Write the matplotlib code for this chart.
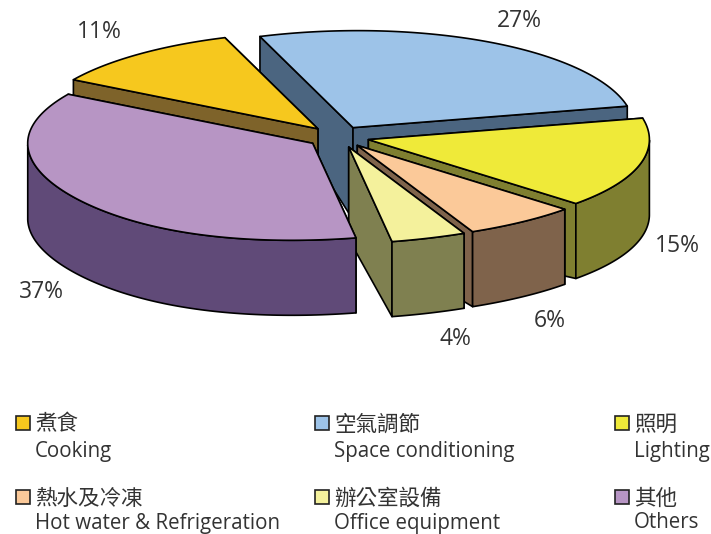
import numpy as np
import matplotlib
matplotlib.use("Agg")
import matplotlib.pyplot as plt
from matplotlib.patches import Polygon, Rectangle

# Data
names_zh = ["煮食", "空氣調節", "照明", "熱水及冷凍", "辦公室設備", "其他"]
names_en = ["Cooking", "Space conditioning", "Lighting",
            "Hot water & Refrigeration", "Office equipment", "Others"]
values = [11, 27, 15, 6, 4, 37]

# Styles and layout, kept apart from the data
top_colors = ["#F6C81E", "#9DC3E8", "#EFEA39", "#FBC999", "#F4F19C", "#B795C4"]
side_colors = ["#7E632A", "#4B6580", "#7F7F30", "#7F634B", "#7F8050", "#604A78"]
label_pos = [(99, 32), (519, 21), (677, 246), (550, 321), (455, 339), (41, 292)]
legend_x = [16, 315, 615]
legend_y = [424, 498]
legend_en_gap = [28, 25]
draw_order = [1, 0, 2, 3, 4, 5]

plt.rcParams["font.family"] = ["Open Sans", "Noto Sans CJK TC", "DejaVu Sans"]

center_x, center_y = 338, 137
radius_x, radius_y = 285, 97
explode = 0.11
start_angle = 149.6
text_color = "#333333"


def rim_height(t):
    # front of the pie is 75 px tall, the back shrinks
    return 75 - 40 * np.maximum(np.sin(t), 0)


def rim_offset(t):
    # ellipse with a slight perspective lean, front goes left, right side is shorter
    c, s = np.cos(t), np.sin(t)
    dx = np.where(c > 0, 281, radius_x) * c
    dx = dx + np.where(s < 0, -21 * s ** 4, 5 * s ** 2)
    return dx, -radius_y * s


fig = plt.figure(figsize = (7.11, 5.34), dpi = 100)
ax = fig.add_axes([0, 0, 1, 1])
ax.set_xlim(0, 711)
ax.set_ylim(534, 0)
ax.axis("off")

spans = np.array(values) / sum(values) * 2 * np.pi
ends = np.radians(start_angle) - np.cumsum(spans)
starts = ends + spans

for z, i in enumerate(draw_order):
    t0, t1 = starts[i], ends[i]
    mid = (t0 + t1) / 2
    ax_x = center_x + explode * radius_x * np.cos(mid)
    ax_y = center_y - explode * radius_y * np.sin(mid)
    apex_h = 92

    t = np.linspace(t0, t1, 120)
    dx, dy = rim_offset(t)
    rim_x = ax_x + dx
    rim_y = ax_y + dy
    style = dict(edgecolor = "black", linewidth = 1.2, joinstyle = "round",
                 zorder = 2 + z)

    # flat cut faces of the wedge, the one nearer the viewer goes last
    for k in sorted([0, -1], key = lambda n: rim_y[n]):
        face = [(ax_x, ax_y), (rim_x[k], rim_y[k]),
                (rim_x[k], rim_y[k] + rim_height(t[k])),
                (ax_x, ax_y + apex_h)]
        ax.add_patch(Polygon(face, facecolor = side_colors[i], **style))

    # curved outer face, front part only
    front = np.sin(t) <= 0.0
    if front.any():
        fx, fy, ft = rim_x[front], rim_y[front], t[front]
        outer = np.vstack([np.column_stack([fx, fy]),
                           np.column_stack([fx, fy + rim_height(ft)])[::-1]])
        ax.add_patch(Polygon(outer, facecolor = side_colors[i], **style))

    top = np.vstack([[ax_x, ax_y], np.column_stack([rim_x, rim_y])])
    ax.add_patch(Polygon(top, facecolor = top_colors[i], **style))

    ax.text(label_pos[i][0], label_pos[i][1], "%d%%" % values[i], ha = "center",
            va = "center", fontsize = 16.5, color = text_color, zorder = 20)

# Legend, three columns by two rows
for i in range(len(names_en)):
    x = legend_x[i % 3]
    y = legend_y[i // 3]
    ax.add_patch(Rectangle((x, y - 8), 14, 14, facecolor = top_colors[i],
                           edgecolor = "#222222", linewidth = 1.2))
    ax.text(x + 19, y + 1, names_zh[i], ha = "left", va = "center",
            fontsize = 15.5, color = text_color)
    ax.text(x + 19, y + legend_en_gap[i // 3], names_en[i], ha = "left", va = "center",
            fontsize = 14.8, color = text_color)

fig.savefig("out.png", dpi = 100)
